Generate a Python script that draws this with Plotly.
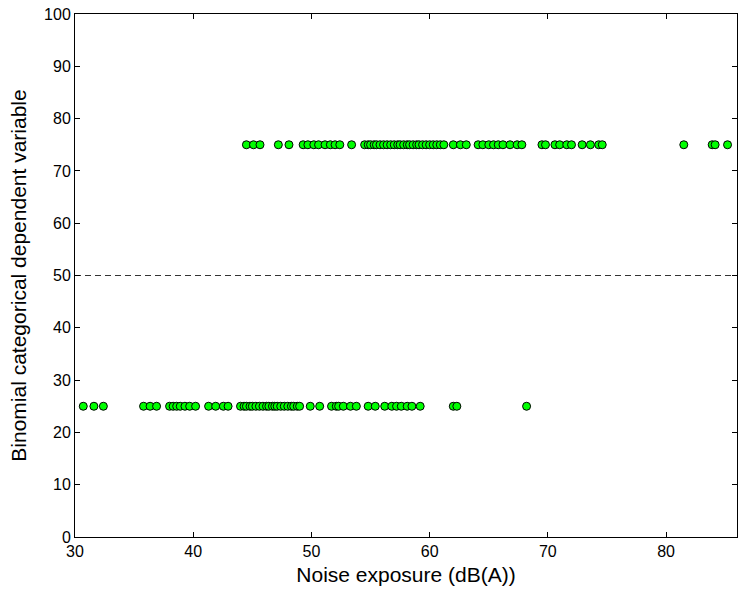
import plotly.graph_objects as go

# Noise exposure (dB(A)) for each subject, split by the binomial outcome
exposure_low = [
    30.7, 31.6, 32.4,
    35.8, 36.35, 36.9,
    38.0, 38.3, 38.6, 38.9, 39.3, 39.7, 40.2,
    41.3, 41.9, 42.55, 42.95,
    44.0, 44.3, 44.5, 44.8, 45.0, 45.3, 45.6, 45.9, 46.2, 46.4, 46.7, 46.9,
    47.1, 47.4, 47.7, 48.0, 48.3, 48.5, 48.8, 49.0,
    49.9, 50.7, 51.7, 52.1, 52.3, 52.7, 53.3, 53.8, 54.8, 55.4,
    56.2, 56.8, 57.2, 57.6, 58.1, 58.5, 59.2,
    62.0, 62.3, 68.2,
]
exposure_high = [
    44.5, 45.1, 45.65, 47.2, 48.1,
    49.3, 49.7, 50.2, 50.6, 51.15, 51.6, 52.0, 52.4, 53.4,
    54.5, 54.8, 55.0, 55.3, 55.5, 55.8, 56.1, 56.4, 56.7, 57.0, 57.3, 57.5,
    57.8, 58.1, 58.3, 58.6, 58.9, 59.1, 59.4, 59.7, 60.0, 60.3, 60.6, 60.9,
    61.2, 62.0, 62.6, 63.1,
    64.1, 64.5, 65.0, 65.4, 65.8, 66.2, 66.8, 67.4, 67.8,
    69.5, 69.8, 70.6, 71.0, 71.6, 72.0, 72.9, 73.6, 74.3, 74.6,
    81.5, 83.9, 84.15, 85.2,
]
level_low = 25
level_high = 75
cutoff = 50

x_ticks = [30, 40, 50, 60, 70, 80]
y_ticks = list(range(0, 101, 10))
x_range = [30, 86]
y_range = [0, 100]

font_family = "Liberation Sans, Arial, Helvetica, sans-serif"

fig = go.Figure()

# Decision threshold
fig.add_trace(go.Scatter(
    x=x_range, y=[cutoff, cutoff], mode="lines",
    line=dict(color="#333333", width=1, dash="6px,4px"),
    hoverinfo="skip", showlegend=False,
))

marker_style = dict(color="#00ff00", size=8, line=dict(color="black", width=1))

fig.add_trace(go.Scatter(
    x=exposure_low, y=[level_low] * len(exposure_low), mode="markers",
    marker=marker_style, showlegend=False,
))
fig.add_trace(go.Scatter(
    x=exposure_high, y=[level_high] * len(exposure_high), mode="markers",
    marker=marker_style, showlegend=False,
))

axis_common = dict(
    showline=True, linecolor="black", linewidth=1, mirror="ticks",
    ticks="inside", ticklen=5, tickcolor="black", tickwidth=1,
    showgrid=False, zeroline=False,
    tickfont=dict(family=font_family, size=16, color="black"),
)

fig.update_layout(
    width=744, height=596,
    margin=dict(l=75, r=6, t=12, b=59),
    paper_bgcolor="white", plot_bgcolor="white",
    font=dict(family=font_family, color="black"),
    xaxis=dict(
        range=x_range, tickvals=x_ticks, **axis_common,
        title=dict(text="Noise exposure (dB(A))",
                   font=dict(family=font_family, size=21, color="black"),
                   standoff=8),
    ),
    yaxis=dict(
        range=y_range, tickvals=y_ticks, **axis_common,
        title=dict(text="Binomial categorical dependent variable",
                   font=dict(family=font_family, size=21, color="black"),
                   standoff=11),
    ),
)

fig.write_html("out.html")
